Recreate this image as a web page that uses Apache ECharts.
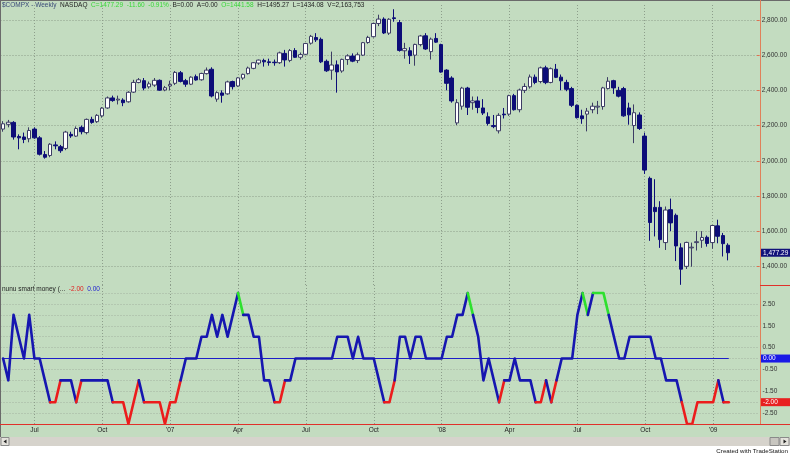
<!DOCTYPE html>
<html><head><meta charset="utf-8">
<script src="https://cdn.jsdelivr.net/npm/echarts@6/dist/echarts.min.js"></script>
<style>html,body{margin:0;padding:0;background:#fff}#c{width:790px;height:454px}</style>
</head><body><div id="c"></div>
<script>
// ---- weekly bars (Friday dates) ----
const weeks = [
'2006-05-26','2006-06-02','2006-06-09','2006-06-16','2006-06-23','2006-06-30','2006-07-07','2006-07-14','2006-07-21','2006-07-28',
'2006-08-04','2006-08-11','2006-08-18','2006-08-25','2006-09-01','2006-09-08','2006-09-15','2006-09-22','2006-09-29','2006-10-06',
'2006-10-13','2006-10-20','2006-10-27','2006-11-03','2006-11-10','2006-11-17','2006-11-24','2006-12-01','2006-12-08','2006-12-15',
'2006-12-22','2006-12-29','2007-01-05','2007-01-12','2007-01-19','2007-01-26','2007-02-02','2007-02-09','2007-02-16','2007-02-23',
'2007-03-02','2007-03-09','2007-03-16','2007-03-23','2007-03-30','2007-04-06','2007-04-13','2007-04-20','2007-04-27','2007-05-04',
'2007-05-11','2007-05-18','2007-05-25','2007-06-01','2007-06-08','2007-06-15','2007-06-22','2007-06-29','2007-07-06','2007-07-13',
'2007-07-20','2007-07-27','2007-08-03','2007-08-10','2007-08-17','2007-08-24','2007-08-31','2007-09-07','2007-09-14','2007-09-21',
'2007-09-28','2007-10-05','2007-10-12','2007-10-19','2007-10-26','2007-11-02','2007-11-09','2007-11-16','2007-11-23','2007-11-30',
'2007-12-07','2007-12-14','2007-12-21','2007-12-28','2008-01-04','2008-01-11','2008-01-18','2008-01-25','2008-02-01','2008-02-08',
'2008-02-15','2008-02-22','2008-02-29','2008-03-07','2008-03-14','2008-03-21','2008-03-28','2008-04-04','2008-04-11','2008-04-18',
'2008-04-25','2008-05-02','2008-05-09','2008-05-16','2008-05-23','2008-05-30','2008-06-06','2008-06-13','2008-06-20','2008-06-27',
'2008-07-03','2008-07-11','2008-07-18','2008-07-25','2008-08-01','2008-08-08','2008-08-15','2008-08-22','2008-08-29','2008-09-05',
'2008-09-12','2008-09-19','2008-09-26','2008-10-03','2008-10-10','2008-10-17','2008-10-24','2008-10-31','2008-11-07','2008-11-14',
'2008-11-21','2008-11-28','2008-12-05','2008-12-12','2008-12-19','2008-12-26','2009-01-02','2009-01-09','2009-01-16','2009-01-23'
];
// empty weeks to the right of the last bar
const padWeeks = ['2009-01-30','2009-02-06','2009-02-13','2009-02-20','2009-02-27'];

const opens = [
2180,2207,2218,2138,2135,2125,2180,2130,2035,2030, 2090,2080,2070,2150,2140,2190,2160,2235,2222,2255,
2300,2357,2345,2345,2335,2390,2445,2455,2420,2430, 2457,2402,2425,2440,2500,2455,2435,2478,2460,2495,
2520,2350,2385,2380,2450,2425,2470,2495,2525,2555, 2570,2562,2560,2557,2610,2570,2626,2588,2605,2668,
2700,2690,2565,2515,2545,2510,2575,2595,2570,2600, 2672,2705,2780,2805,2725,2812,2785,2625,2625,2600,
2660,2710,2620,2695,2660,2515,2470,2215,2310,2413, 2330,2340,2300,2250,2200,2170,2265,2265,2370,2290,
2400,2420,2475,2450,2528,2445,2520,2475,2445,2410, 2315,2255,2265,2290,2305,2308,2410,2455,2400,2410,
2300,2200,2260,2140,1900,1735,1735,1535,1722,1690, 1505,1400,1505,1535,1548,1565,1535,1630,1575,1520
];
const closes = [
2210,2219,2135,2130,2121,2172,2130,2037,2020,2094, 2085,2057,2163,2141,2183,2165,2235,2218,2258,2299,
2357,2342,2350,2330,2389,2445,2460,2413,2437,2457, 2401,2415,2434,2502,2451,2435,2475,2459,2496,2515,
2368,2387,2372,2448,2421,2471,2491,2527,2557,2572, 2562,2558,2557,2613,2573,2626,2588,2603,2666,2707,
2687,2562,2511,2544,2505,2576,2596,2566,2602,2671, 2701,2780,2805,2726,2804,2808,2627,2637,2597,2661,
2709,2635,2691,2674,2504,2440,2340,2330,2413,2304, 2340,2303,2271,2212,2194,2258,2261,2370,2290,2402,
2422,2476,2445,2528,2444,2523,2474,2454,2406,2315, 2245,2239,2282,2310,2310,2414,2452,2414,2367,2255,
2261,2273,2183,1947,1649,1711,1552,1720,1647,1516, 1384,1536,1509,1540,1564,1530,1632,1571,1529,1477.29
];
const lows = [
2165,2190,2120,2065,2100,2105,2125,2030,2012,2020, 2065,2045,2060,2130,2135,2150,2150,2210,2215,2245,
2295,2335,2320,2310,2330,2385,2440,2400,2410,2420, 2398,2395,2400,2430,2445,2420,2430,2455,2455,2490,
2360,2335,2330,2375,2405,2420,2460,2490,2520,2545, 2535,2540,2540,2550,2535,2560,2585,2575,2600,2660,
2675,2555,2505,2460,2387,2500,2545,2560,2555,2595, 2665,2700,2765,2720,2715,2790,2620,2580,2550,2540,
2650,2630,2575,2670,2500,2400,2330,2202,2290,2260, 2290,2270,2260,2200,2185,2155,2240,2255,2285,2275,
2385,2410,2435,2440,2435,2440,2470,2400,2395,2305, 2240,2210,2167,2270,2265,2290,2405,2380,2360,2250,
2205,2100,2175,1925,1545,1570,1505,1493,1600,1430, 1295,1385,1398,1490,1505,1512,1500,1531,1456,1434
];
const highs = [
2225,2232,2225,2150,2160,2190,2190,2140,2055,2100, 2110,2090,2170,2165,2195,2200,2240,2250,2265,2305,
2365,2370,2370,2355,2395,2460,2470,2470,2450,2470, 2462,2425,2455,2510,2510,2465,2480,2490,2500,2530,
2531,2395,2400,2455,2455,2475,2495,2535,2560,2575, 2580,2580,2575,2620,2630,2635,2640,2615,2670,2715,
2725,2700,2575,2620,2570,2580,2605,2610,2615,2675, 2710,2785,2830,2815,2810,2861,2800,2670,2645,2665,
2715,2725,2700,2725,2665,2520,2480,2350,2420,2420, 2365,2365,2350,2275,2260,2270,2300,2375,2380,2410,
2440,2490,2490,2535,2540,2530,2550,2490,2460,2420, 2320,2290,2300,2330,2340,2420,2475,2460,2420,2420,
2330,2320,2275,2160,1910,1895,1770,1740,1785,1700, 1531,1540,1535,1600,1600,1575,1635,1665,1590,1531
];
// "nunu smart money" indicator, one value per week
const smartMoney = [
 0,-1, 2, 1, 0, 2, 0, 0,-1,-2, -2,-1,-1,-1,-2,-1,-1,-1,-1,-1,
-1,-2,-2,-2,-3,-2,-1,-2,-2,-2, -2,-3,-2,-2,-1, 0, 0, 0, 1, 1,
 2, 1, 2, 1, 2, 3, 2, 2, 1, 1, -1,-1,-2,-2,-1,-1, 0, 0, 0, 0,
 0, 0, 0, 0, 1, 1, 1, 0, 1, 0,  0, 0,-1,-2,-2,-1, 1, 1, 0, 1,
 1, 0, 0, 0, 0, 1, 1, 2, 2, 3,  2, 1,-1, 0,-1,-2,-1,-1, 0,-1,
-1,-1,-2,-2,-1,-2,-1, 0, 0, 0,  2, 3, 2, 3, 3, 3, 2, 1, 0, 0,
 1, 1, 1, 1, 1, 0, 0,-1,-1,-1, -2,-3,-3,-2,-2,-2,-2,-1,-2,-2
];
const zeroPlotValue = 0;

const xTickWeeks  = ['2006-07-07','2006-10-06','2007-01-05','2007-04-06','2007-07-06','2007-10-05','2008-01-04','2008-04-04','2008-07-03','2008-10-03','2009-01-02'];
const xTickLabels = ['Jul','Oct',"'07",'Apr','Jul','Oct',"'08",'Apr','Jul','Oct',"'09"];
const smLabelValues = [2.5, 1.5, 0.5, -0.5, -1.5, -2.5];

// ---- styles ----
const FONT = 'Arial, "Liberation Sans", sans-serif';
const BG = '#c3dcc0';
const GRIDC = '#8d9e8b';
const BLUE = '#1616b0', RED = '#ec1c1c', GREEN = '#2ee02e';

const cats = weeks.concat(padWeeks);
const tickMap = {};
xTickWeeks.forEach((w, k) => { tickMap[cats.indexOf(w)] = xTickLabels[k]; });
const isTick = (i) => tickMap[i] !== undefined;

const candleData = weeks.map((w, i) => [opens[i], closes[i], lows[i], highs[i]]);

// indicator segments: colour of each segment follows the level of the previous bar
function segColor(prev) { return prev >= 3 ? GREEN : (prev <= -2 ? RED : BLUE); }
const runs = [];
for (let i = 1; i < smartMoney.length; i++) {
  const c = segColor(smartMoney[i - 1]);
  const last = runs[runs.length - 1];
  if (last && last.color === c && last.end === i - 1) last.end = i;
  else runs.push({ color: c, start: i - 1, end: i });
}
const smSeries = runs.map(r => ({
  type: 'line', xAxisIndex: 1, yAxisIndex: 1, symbol: 'none', silent: true,
  lineStyle: { color: r.color, width: 2.6, join: 'round', cap: 'round' },
  data: cats.map((w, j) => (j >= r.start && j <= r.end) ? smartMoney[j] : null),
  z: 5
}));

const chart = echarts.init(document.getElementById('c'), null, { renderer: 'canvas' });
const G_LEFT = 0.5, G_WIDTH = 757;

const xBase = (gridIndex, showLabels) => ({
  type: 'category', gridIndex, data: cats, boundaryGap: true,
  axisLine: showLabels ? { show: true, onZero: false, lineStyle: { color: '#e0302a', width: 1 } } : { show: false },
  axisTick: { show: false },
  axisLabel: showLabels ? {
    show: true, interval: (i) => isTick(i), formatter: (v, i) => tickMap[i] || '',
    color: '#222', fontSize: 6.5, fontFamily: FONT, margin: 3
  } : { show: false },
  splitLine: { show: true, interval: (i) => isTick(i), alignWithLabel: true, lineStyle: { color: GRIDC, type: [1, 2], width: 1 } }
});

const txt = (color) => ({ color, fontSize: 6.5, fontFamily: FONT, fontWeight: 'normal' });

chart.setOption({
  animation: false,
  backgroundColor: BG,
  title: [{
    left: 2, top: 2, padding: 0,
    text: '{a|$COMPX - Weekly}  {b|NASDAQ}  {g|C=1477.29  -11.60  -0.91%}  {b|B=0.00  A=0.00}  {g|O=1441.58}  {b|H=1495.27  L=1434.08  V=2,163,753}',
    textStyle: Object.assign(txt('#1e1e1e'), { rich: { a: txt('#3a4a78'), b: txt('#1e1e1e'), g: txt('#38d838') } })
  }, {
    left: 2, top: 286, padding: 0,
    text: '{b|nunu smart money (...}  {r|-2.00}  {bl|0.00}',
    textStyle: Object.assign(txt('#1e1e1e'), { rich: { b: txt('#1e1e1e'), r: txt('#e02020'), bl: txt('#2020d0') } })
  }],
  grid: [
    { left: G_LEFT, top: 5, width: G_WIDTH, height: 280 },
    { left: G_LEFT, top: 285, width: G_WIDTH, height: 139 }
  ],
  xAxis: [xBase(0, false), xBase(1, true)],
  yAxis: [{
    type: 'value', gridIndex: 0, position: 'right', min: 1294, max: 2885, splitNumber: 8, scale: true,
    axisLine: { show: false },
    axisTick: { show: true, length: 3, lineStyle: { color: '#e07050' } },
    axisLabel: { color: '#333', fontSize: 6.5, fontFamily: FONT, margin: 5, showMinLabel: false, showMaxLabel: false,
      formatter: v => v.toLocaleString('en-US', { minimumFractionDigits: 2, maximumFractionDigits: 2 }) },
    splitLine: { show: true, showMinLine: false, showMaxLine: false, lineStyle: { color: GRIDC, type: [1, 2], width: 1 } }
  }, {
    type: 'value', gridIndex: 1, position: 'right', min: -3, max: 3.37, splitNumber: 13,
    axisLine: { show: false },
    axisTick: { show: false },
    axisLabel: { color: '#333', fontSize: 6.5, fontFamily: FONT, margin: 5, showMinLabel: false, showMaxLabel: false,
      formatter: v => smLabelValues.some(s => Math.abs(s - v) < 1e-6) ? v.toFixed(2) : '' },
    splitLine: { show: true, showMinLine: false, showMaxLine: false, lineStyle: { color: '#a3b3a1', type: [1, 2], width: 1 } }
  }],
  series: [{
    type: 'candlestick', xAxisIndex: 0, yAxisIndex: 0, data: candleData, barWidth: 4, silent: true,
    itemStyle: { color: '#ffffff', color0: '#0d0d78', borderColor: '#3c3c64', borderColor0: '#0d0d78', borderWidth: 1 }
  }, {
    type: 'line', xAxisIndex: 1, yAxisIndex: 1, data: [], symbol: 'none', silent: true,
    markLine: { silent: true, symbol: 'none', label: { show: false },
      lineStyle: { color: '#1d1dc8', width: 1, type: 'solid' },
      data: [[{ xAxis: weeks[0], yAxis: zeroPlotValue }, { xAxis: weeks[weeks.length - 1], yAxis: zeroPlotValue }]] }
  }].concat(smSeries)
});

const n = weeks.length - 1;
const yClose = chart.convertToPixel({ yAxisIndex: 0 }, closes[n]);
const yZero = chart.convertToPixel({ yAxisIndex: 1 }, zeroPlotValue);
const ySm = chart.convertToPixel({ yAxisIndex: 1 }, smartMoney[n]);
const yBottom = chart.convertToPixel({ yAxisIndex: 1 }, -3);
const box = (y, fill, t) => ({ type: 'group', children: [
  { type: 'rect', shape: { x: 760.5, y: y - 4, width: 30, height: 8 }, style: { fill } },
  { type: 'text', x: 763, y: y, style: { text: t, fill: '#fff', font: '6.5px ' + FONT, textVerticalAlign: 'middle' } }
] });

chart.setOption({ graphic: [
  { type: 'rect', shape: { x: 0, y: 437, width: 790, height: 17 }, style: { fill: '#ffffff' }, z: 10 },
  { type: 'rect', shape: { x: 0, y: 437, width: 790, height: 9 }, style: { fill: '#d6d3cc' }, z: 11 },
  { type: 'rect', shape: { x: 1, y: 437.5, width: 8, height: 8 }, style: { fill: '#e4e2dc', stroke: '#8a8a8a', lineWidth: 1 }, z: 12 },
  { type: 'polygon', shape: { points: [[3.5, 441.5], [6.5, 439.5], [6.5, 443.5]] }, style: { fill: '#222' }, z: 13 },
  { type: 'rect', shape: { x: 770, y: 437.5, width: 9, height: 8 }, style: { fill: '#c8c6c0', stroke: '#8a8a8a', lineWidth: 1 }, z: 12 },
  { type: 'rect', shape: { x: 780, y: 437.5, width: 9, height: 8 }, style: { fill: '#e4e2dc', stroke: '#8a8a8a', lineWidth: 1 }, z: 12 },
  { type: 'polygon', shape: { points: [[783.5, 439.5], [786.5, 441.5], [783.5, 443.5]] }, style: { fill: '#222' }, z: 13 },
  { type: 'text', x: 788, y: 451, style: { text: 'Created with TradeStation', fill: '#111', font: '6.2px ' + FONT, textAlign: 'right', textVerticalAlign: 'middle' }, z: 12 },
  { type: 'line', shape: { x1: 0, y1: 0.5, x2: 790, y2: 0.5 }, style: { stroke: '#6a6a6a', lineWidth: 1 }, z: 12 },
  { type: 'line', shape: { x1: 0.5, y1: 0, x2: 0.5, y2: 437 }, style: { stroke: '#6a6a6a', lineWidth: 1 }, z: 12 },
  { type: 'line', shape: { x1: 760.5, y1: 0, x2: 760.5, y2: yBottom }, style: { stroke: '#e0805a', lineWidth: 1 }, z: 12 },
  { type: 'line', shape: { x1: 760, y1: 285.5, x2: 790, y2: 285.5 }, style: { stroke: '#e0302a', lineWidth: 1 }, z: 12 },
  { type: 'line', shape: { x1: 0, y1: Math.round(yBottom) + 0.5, x2: 790, y2: Math.round(yBottom) + 0.5 }, style: { stroke: '#e0302a', lineWidth: 1 }, z: 12 },
  box(yClose, '#12127a', closes[n].toLocaleString('en-US', { minimumFractionDigits: 2 })),
  box(yZero, '#1a1ae6', zeroPlotValue.toFixed(2)),
  box(ySm, '#e82020', smartMoney[n].toFixed(2))
] });
</script></body></html>
